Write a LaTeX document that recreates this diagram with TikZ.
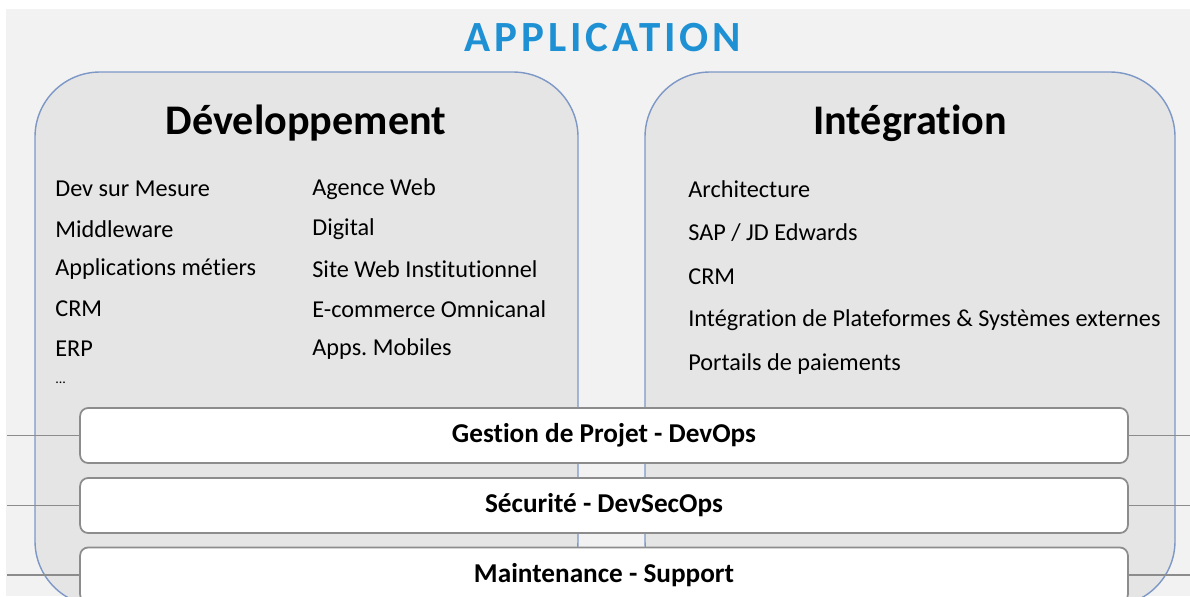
\documentclass[tikz,border=0pt]{standalone}
\usepackage{fontspec}
\setmainfont[RawFeature={-liga;-clig;-calt;-dlig}]{Carlito}
\newfontfamily\titlefont[LetterSpace=9]{Carlito}
\usetikzlibrary{positioning}
\frenchspacing

\definecolor{bgGray}{RGB}{242,242,242}
\definecolor{panelGray}{RGB}{229,229,229}
\definecolor{panelEdge}{RGB}{125,152,198}
\definecolor{barEdge}{RGB}{140,140,140}
\definecolor{titleBlue}{RGB}{30,144,212}

\tikzset{
  panel/.style={draw=panelEdge, fill=panelGray, line width=0.8pt, rounded corners=1.3cm},
  heading/.style={font=\fontsize{24}{28}\selectfont\bfseries},
  item/.style={anchor=west, inner sep=0pt, font=\fontsize{13.8}{16}\selectfont},
  bar/.style={draw=barEdge, fill=white, line width=1pt, rounded corners=0.16cm,
    minimum width=20.96cm, minimum height=1.1cm, inner sep=0pt,
    font=\fontsize{15.5}{18}\selectfont\bfseries},
  link/.style={draw=barEdge, line width=0.8pt}
}

\begin{document}
\begin{tikzpicture}[x=0.02cm,y=-0.02cm]
	\fill[white] (0,0) rectangle (1190,596);
	\fill[bgGray] (6,9) rectangle (1190,596);
	\useasboundingbox (0,0) rectangle (1190,596);
	
	\node[font=\titlefont\fontsize{24.5}{28}\selectfont\bfseries, text=titleBlue] (title) at (603,38) {APPLICATION};
	
	% les deux blocs
	\draw[panel] (35,72) rectangle (578,606);
	\draw[panel] (645,72) rectangle (1175,606);
	
	\node[heading] (dev) at (306,123) {Développement};
	\node[heading] (integ) at (910,123) {Intégration};
	
	\foreach \txt [count=\i] in {Dev sur Mesure, Middleware, Applications métiers, CRM, ERP}
		\node[item] (dev-\i) at (55,{149+40*\i}) {\txt};
	\node[item, font=\fontsize{8}{10}\selectfont] (dev-6) at (55,383) {...};
	
	\foreach \txt [count=\i] in {Agence Web, Digital, Site Web Institutionnel, E-commerce Omnicanal, Apps. Mobiles}
		\node[item] (web-\i) at (312,{149+40*\i}) {\txt};
	
	\foreach \txt [count=\i] in {Architecture, SAP / JD Edwards, CRM, Intégration de Plateformes \& Systèmes externes, Portails de paiements}
		\node[item] (integ-\i) at (688,{145.25+43.75*\i}) {\txt};
	
	% les barres transverses
	\node[bar] (gestion) at (604,435.5) {Gestion de Projet - DevOps};
	\node[bar] (secu) at (604,505.5) {Sécurité - DevSecOps};
	\node[bar] (maint) at (604,575) {Maintenance - Support};
	
	\coordinate (gestion-l) at (7,435.5);
	\coordinate (gestion-r) at (1190,435.5);
	\coordinate (secu-l) at (7,505.5);
	\coordinate (secu-r) at (1190,505.5);
	\coordinate (maint-l) at (7,575);
	\coordinate (maint-r) at (1190,575);
	
	\draw[link] (gestion-l) -- (gestion);
	\draw[link] (gestion) -- (gestion-r);
	\draw[link] (secu-l) -- (secu);
	\draw[link] (secu) -- (secu-r);
	\draw[link] (maint-l) -- (maint);
	\draw[link] (maint) -- (maint-r);
\end{tikzpicture}
\end{document}
